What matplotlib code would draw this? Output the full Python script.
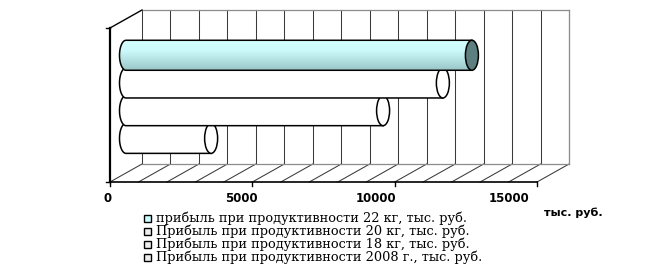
import numpy as np
import matplotlib
matplotlib.use("Agg")
import matplotlib.pyplot as plt
from matplotlib.patches import Ellipse, PathPatch, Rectangle
from matplotlib.path import Path

# series, bottom bar first
labels = [
    "Прибыль при продуктивности 2008 г., тыс. руб.",
    "Прибыль при продуктивности 18 кг, тыс. руб.",
    "Прибыль при продуктивности 20 кг, тыс. руб.",
    "прибыль при продуктивности 22 кг, тыс. руб.",
]
values = [2990, 9030, 11130, 12150]
x_ticks = [0, 5000, 10000, 15000]
x_max = 15000
grid_step = 1000
unit_label = "тыс. руб."

# layout (pixels of a 659x265 figure)
W, H = 659, 265
PX_PER_K = 28.47          # pixels per 1000 value units
X0_PX = 110               # pixel column of value 0 on the front plane
FLOOR_PX = 182            # pixel row of the front floor edge
SLOT_PX = 27.7            # pixel height of one bar slot
DEPTH_PX = (32, 18)       # oblique depth offset

fig = plt.figure(figsize=(W / 100, H / 100), dpi=100)
ax = fig.add_axes([0, 0, 1, 1])
ax.set_axis_off()

DX = DEPTH_PX[0] / PX_PER_K * 1000
DY = DEPTH_PX[1] / SLOT_PX
TOP = (FLOOR_PX - 28) / SLOT_PX

grid_c = "#3a3a3a"
edge_c = "#8c8c8c"

# back wall and floor grid
for v in range(0, x_max + 1, grid_step):
    ax.plot([v + DX, v + DX], [DY, TOP + DY], color=grid_c, lw=0.75, zorder=1)
    ax.plot([v, v + DX], [0, DY], color=grid_c, lw=0.75, zorder=1)
ax.plot([DX, x_max + DX], [DY, DY], color=edge_c, lw=0.9, zorder=1)
ax.plot([DX, x_max + DX], [TOP + DY, TOP + DY], color=edge_c, lw=0.9, zorder=1)
ax.plot([x_max + DX, x_max + DX], [DY, TOP + DY], color=edge_c, lw=0.9, zorder=1)
ax.plot([0, DX], [TOP, TOP + DY], color="black", lw=1.0, zorder=1)

# axes lines
ax.plot([0, 0], [0, TOP], color="black", lw=1.6, zorder=2)
ax.plot([0, x_max], [0, 0], color="black", lw=1.2, zorder=2)
tick_dy = 4 / SLOT_PX
tick_dx = 4 / PX_PER_K * 1000
for v in x_ticks:
    ax.plot([v, v], [0, -tick_dy], color="black", lw=1.0, zorder=2)
for yv in (0, TOP):
    ax.plot([-tick_dx, 0], [yv, yv], color="black", lw=1.0, zorder=2)

# tick labels (the reference labels sit slightly compressed toward 0)
for v in x_ticks:
    ax.annotate(str(v), xy=(v * 0.94 - 70, 0), xytext=(0, -12),
                textcoords="offset points", ha="center", va="center",
                fontsize=8.5, fontweight="bold", family="DejaVu Sans")
fig.text(573 / W, 1 - 213 / H, unit_label, ha="center", va="center",
         fontsize=8, fontweight="bold", family="DejaVu Sans")

# cylinders
bar_h = 30 / SLOT_PX
cap_a = 6.5 / PX_PER_K * 1000
gradient = np.linspace(0, 1, 64).reshape(-1, 1)
cyan_cmap = matplotlib.colors.LinearSegmentedColormap.from_list(
    "cyl", ["#9ac6c6", "#b4e2e2", "#cdfafa", "#d4ffff"])

for i, v in enumerate(values):
    yc = 1.25 + i + DY / 2
    x0 = DX / 2
    x1 = v + DX / 2
    yt, yb = yc + bar_h / 2, yc - bar_h / 2
    t = np.linspace(0, np.pi, 40)
    arc = np.column_stack([x0 - cap_a * np.sin(t), yc - bar_h / 2 * np.cos(t)])
    verts = np.vstack([[x0, yt], [x1, yt], [x1, yb], [x0, yb], arc, [[x0, yt]]])
    body = Path(verts)
    z = 3 + i
    highlight = i == len(values) - 1
    if highlight:
        ax.add_patch(PathPatch(body, facecolor="none", edgecolor="black", lw=1.1, zorder=z + 0.2))
        img = ax.imshow(gradient, cmap=cyan_cmap, aspect="auto", origin="lower",
                        extent=(x0 - cap_a, x1, yb, yt), zorder=z, interpolation="bilinear")
        img.set_clip_path(PathPatch(body, transform=ax.transData))
        cap_color = "#5e7f7f"
    else:
        ax.add_patch(PathPatch(body, facecolor="white", edgecolor="black", lw=1.1, zorder=z))
        cap_color = "white"
    ax.add_patch(Ellipse((x1, yc), 2 * cap_a, bar_h, facecolor=cap_color,
                         edgecolor="black", lw=1.1, zorder=z + 0.5))

ax.set_xlim(-X0_PX / PX_PER_K * 1000, (W - X0_PX) / PX_PER_K * 1000)
ax.set_ylim(-(H - FLOOR_PX) / SLOT_PX, FLOOR_PX / SLOT_PX)

# legend, top entry = top bar
row_y = [218, 231, 244, 257]
for k, idx in enumerate(reversed(range(len(labels)))):
    py = row_y[k]
    fc = "#ccffff" if idx == len(labels) - 1 else "#eeeeee"
    fig.patches.append(Rectangle((144 / W, 1 - (py + 3.5) / H), 7 / W, 7 / H,
                                 transform=fig.transFigure, facecolor=fc,
                                 edgecolor="black", lw=1.0))
    fig.text(156 / W, 1 - py / H, labels[idx], ha="left", va="center",
             fontsize=9.3, family="DejaVu Serif")

fig.savefig("out.png", dpi=100)
